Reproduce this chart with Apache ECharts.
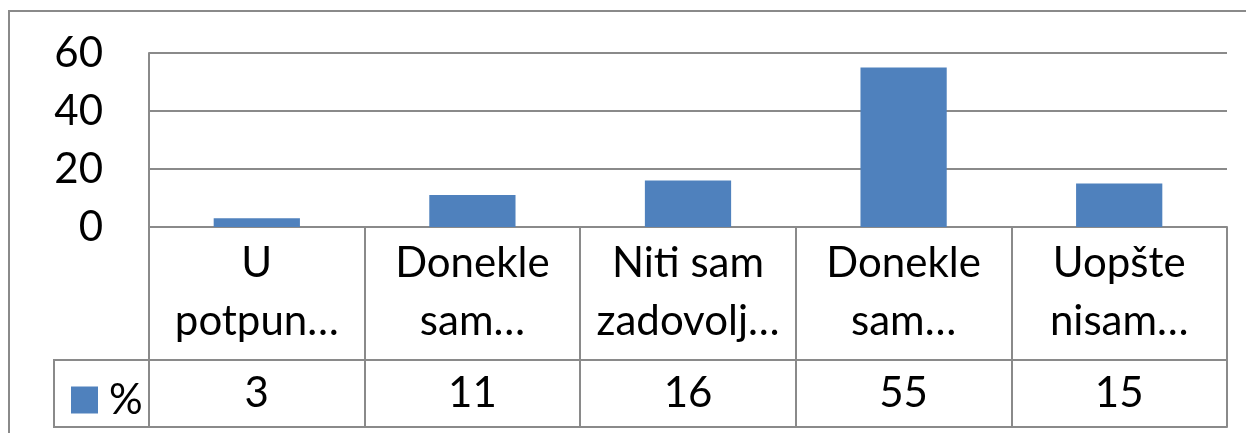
<!DOCTYPE html>
<html>
<head>
<meta charset="utf-8">
<script src="https://cdn.jsdelivr.net/npm/echarts@6/dist/echarts.min.js"></script>
<style>
    html, body { margin: 0; padding: 0; background: #fff; }
    #chart { width: 1246px; height: 433px; }
</style>
</head>
<body>
<div id="chart"></div>
<script>
    // data
    var categories = ['U\npotpun…', 'Donekle\nsam…', 'Niti sam\nzadovolj…', 'Donekle\nsam…', 'Uopšte\nnisam…'];
    var percent = [3, 11, 16, 55, 15];
    var seriesName = '%';
    var yTicks = { min: 0, max: 60, interval: 20 };

    var gray = '#8a8a8a';
    var font = 'Lato';
    var fs = 42;

    var chart = echarts.init(document.getElementById('chart'));
    chart.setOption({
        animation: false,
        textStyle: { fontFamily: font },
        grid: { left: 149, right: 19, top: 53, bottom: 206, show: false },
        legend: {
            data: [seriesName],
            left: 66, top: 374,
            icon: 'rect',
            itemWidth: 27, itemHeight: 27,
            textStyle: { fontSize: fs, color: '#000', fontFamily: font, padding: [0, 0, 0, 6] }
        },
        xAxis: [
            {
                type: 'category',
                data: categories,
                position: 'bottom',
                axisLine: { show: true, lineStyle: { color: gray, width: 2 } },
                axisTick: { show: false },
                axisLabel: { interval: 0, fontSize: fs, lineHeight: 58, margin: 7, color: '#000', fontFamily: font },
                splitLine: { show: false }
            },
            {
                // data table: row with the values, ticks make the column borders above
                type: 'category',
                data: categories,
                position: 'bottom',
                offset: 133,
                axisLine: { show: true, lineStyle: { color: gray, width: 2 } },
                axisTick: { show: true, inside: true, interval: 0, length: 133, lineStyle: { color: gray, width: 2 } },
                splitLine: { show: false },
                axisLabel: {
                    interval: 0, fontSize: fs, lineHeight: 40, margin: 13, color: '#000', fontFamily: font,
                    formatter: function (v, i) { return String(percent[i]); }
                }
            },
            {
                type: 'category',
                data: categories,
                position: 'bottom',
                offset: 200,
                axisLine: { show: true, lineStyle: { color: gray, width: 2 } },
                axisTick: { show: true, inside: true, interval: 0, length: 67, lineStyle: { color: gray, width: 2 } },
                splitLine: { show: false },
                axisLabel: { show: false }
            }
        ],
        yAxis: {
            type: 'value',
            min: yTicks.min, max: yTicks.max, interval: yTicks.interval,
            axisLine: { show: true, lineStyle: { color: gray, width: 2 } },
            axisTick: { show: false },
            axisLabel: { fontSize: fs, margin: 46, color: '#000', fontFamily: font },
            splitLine: { show: true, lineStyle: { color: gray, width: 2 } }
        },
        series: [{
            name: seriesName,
            type: 'bar',
            xAxisIndex: 0,
            data: percent,
            barWidth: '40%',
            itemStyle: { color: '#4f81bd' }
        }],
        graphic: [
            {
                // chart frame, only left and top edges are in view
                type: 'polyline',
                shape: { points: [[9, 600], [9, 11], [1400, 11]] },
                style: { fill: 'none', stroke: gray, lineWidth: 2 },
                silent: true
            },
            {
                type: 'polyline',
                shape: { points: [[149, 360], [54, 360], [54, 427], [149, 427]] },
                style: { fill: 'none', stroke: gray, lineWidth: 2 },
                silent: true
            }
        ]
    });
</script>
</body>
</html>
